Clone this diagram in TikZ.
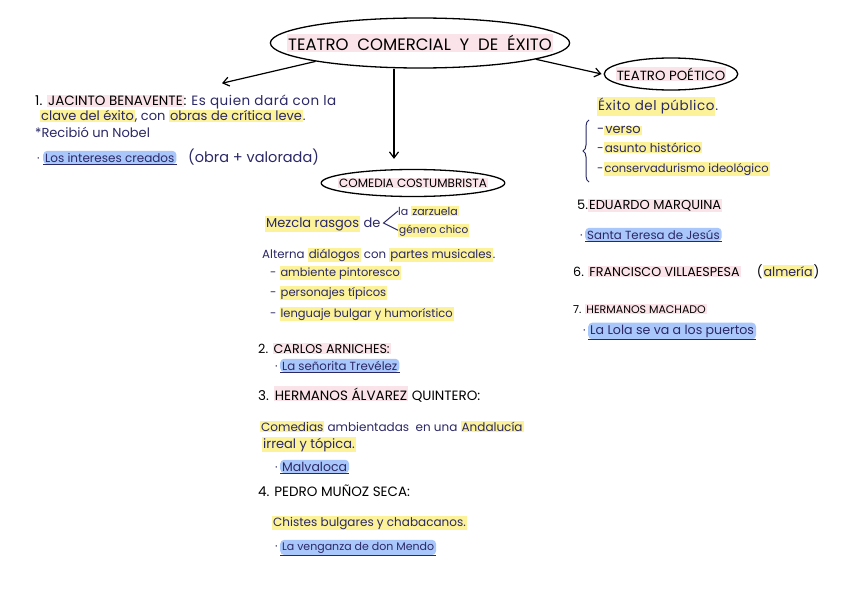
\documentclass[tikz,border=0pt]{standalone}
\usepackage{fontspec}
\setmainfont{Poppins}
\usetikzlibrary{shapes.geometric,arrows.meta,decorations.pathreplacing,calc}
\definecolor{navy}{HTML}{2B2866}
\definecolor{hly}{HTML}{FBF29A}
\definecolor{hlb}{HTML}{A9C7FA}
\definecolor{hlp}{HTML}{FBE4E9}
\newcommand\hy[1]{{\setlength{\fboxsep}{1pt}\colorbox{hly}{#1}}}
\newcommand\hp[1]{{\setlength{\fboxsep}{1pt}\colorbox{hlp}{#1}}}
\newcommand\fs[1]{\fontsize{#1}{#1}\selectfont}
\newcommand\ls[1]{\addfontfeature{LetterSpace=#1}}
\begin{document}
\begin{tikzpicture}[x=1pt,y=-1pt,
  txt/.style={anchor=base west,inner sep=0pt,text=navy,font=\fs{12}},
  head/.style={anchor=base west,inner sep=0pt,text=black,font=\fs{13.5}},
  bl/.style={anchor=base west,inner sep=2pt,fill=hlb,rounded corners=4pt,text=navy,font=\fs{12}},
  dotm/.style={anchor=base west,inner sep=0pt,text=navy,font=\fs{12}},
  ul/.style={draw=navy,line width=1pt},
  oval/.style={ellipse,draw=black,line width=1.3pt,inner ysep=0pt},
  arr/.style={draw=black,line width=1.2pt,-{Straight Barb[length=6pt,width=9pt]}}]
\useasboundingbox (0,0) rectangle (848,599);
\fill[white] (0,0) rectangle (848,599);

% main ellipse
\node[oval,inner xsep=-27pt,minimum height=50,font=\fs{16.5}] (main) at (420,43) {\hp{TEATRO \ COMERCIAL \ Y \ DE \ ÉXITO}};
\node[oval,inner xsep=-8pt,minimum height=32,font=\fs{13.3}] (tp) at (671,74) {\hp{TEATRO POÉTICO}};
\node[oval,inner xsep=-10pt,minimum height=27,font=\fs{12}] (cc) at (413,183) {\hp{COMEDIA COSTUMBRISTA}};

% Benavente
\node[txt,font=\fs{13.5}] (b1) at (35,106) {{\color{black}1. \hp{JACINTO BENAVENTE}:} {\ls{4}Es quien dará con la}};
\node[txt,font=\fs{13}] (b2) at (40,121) {\hy{clave del éxito}, con \hy{obras de crítica leve}.};
\node[txt,font=\fs{13}] (b3) at (35,138) {*Recibió un Nobel};
\node[dotm] (b4d) at (37,162) {·};
\node[bl] (b4) at (43,162) {Los intereses creados};
\node[txt,font=\fs{14.5}] (b5) at (188,162) {(obra + valorada)};
\draw[ul] (b4.south west) -- (b4.south east);

% arrows
\draw[arr] (main.190) -- ([shift={(187,-12)}]b1.north west);
\draw[arr] ([xshift=-26pt]main.south) -- ([xshift=-19pt,yshift=10pt]cc.north);
\draw[arr] (main.352) -- ([xshift=-2pt]tp.west);

% Comedia costumbrista
\node[txt,font=\fs{13}] (mz) at (265,227) {\hy{Mezcla rasgos} de};
\node[txt,font=\fs{11}] (zz) at (398,215) {la \hy{zarzuela}};
\node[txt,font=\fs{10.5}] (gc) at (398,233) {\hy{género chico}};
\coordinate (lt) at ([xshift=3pt]mz.base east);
\draw[navy,line width=1pt] (zz.west) -- ($(lt)+(0,-4)$) -- (gc.west);
\node[txt,font=\fs{11.8}] (al) at (262,258) {Alterna \hy{diálogos} con \hy{partes musicales}.};
\node[txt,font=\fs{11.4}] (l1) at (270,276) {- \hy{ambiente pintoresco}};
\node[txt,font=\fs{11.6}] (l2) at (270,296) {- \hy{personajes típicos}};
\node[txt,font=\fs{11.5}] (l3) at (270,317) {- \hy{lenguaje bulgar y humorístico}};

\node[head,font=\fs{12.7}] (ca) at (258,353) {2. \hp{CARLOS ARNICHES:}};
\node[dotm] (cad) at (275,370) {·};
\node[bl,font=\fs{11.8}] (cab) at (280,370) {La señorita Trevélez};
\draw[ul] (cab.south west) -- (cab.south east);

\node[head] (hq) at (258,400) {3. \hp{HERMANOS ÁLVAREZ} QUINTERO:};
\node[txt] (co1) at (260,431) {\hy{Comedias} ambientadas \ en una \hy{Andalucía}};
\node[txt,font=\fs{13}] (co2) at (262,448) {\hy{irreal y tópica.}};
\node[dotm] (mvd) at (275,471) {·};
\node[bl,font=\fs{12.5}] (mv) at (280,471) {Malvaloca};
\draw[ul] (mv.south west) -- (mv.south east);

\node[head] (pm) at (258,496) {4. PEDRO MUÑOZ SECA:};
\node[txt] (ch) at (272,526) {\hy{Chistes bulgares y chabacanos.}};
\node[dotm] (vdd) at (275,550) {·};
\node[bl,font=\fs{11}] (vd) at (280,550) {La venganza de don Mendo};
\draw[ul] (vd.south west) -- (vd.south east);

% Teatro poetico
\node[txt,font=\fs{13.5}\ls{4}] (ex) at (597,111) {\hy{Éxito del público}.};
\node[txt,font=\fs{13}] (v1) at (597,134) {-\hy{verso}};
\node[txt] (v2) at (597,152) {-\hy{asunto histórico}};
\node[txt,font=\fs{11.5}] (v3) at (597,172) {-\hy{conservadurismo ideológico}};
\draw[navy,line width=1pt,decorate,decoration={brace,amplitude=6pt}] (589,182) -- (589,120);

\node[head,font=\fs{13}] (em) at (577,209) {5.\hp{EDUARDO MARQUINA}};
\node[dotm] (std) at (580,239) {·};
\node[bl,font=\fs{11.8}] (st) at (585,239) {Santa Teresa de Jesús};
\draw[ul] (st.south west) -- (st.south east);

\node[head,font=\fs{12.7}] (fv) at (573,276) {6. \hp{FRANCISCO VILLAESPESA} \quad (\hy{\color{navy}almería})};
\node[head,font=\fs{11}] (hm) at (573,313) {7. \hp{HERMANOS MACHADO}};
\node[dotm] (lld) at (583,334) {·};
\node[bl,font=\fs{12.6}] (ll) at (588,334) {La Lola se va a los puertos};
\draw[ul] (ll.south west) -- (ll.south east);
\end{tikzpicture}
\end{document}
